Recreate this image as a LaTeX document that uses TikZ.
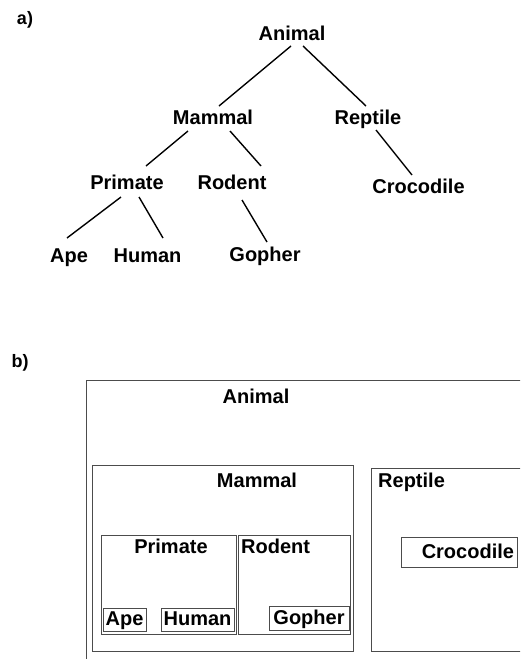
\documentclass[tikz,border=0pt]{standalone}
\usepackage{fontspec}
\setmainfont{Liberation Sans}
\usetikzlibrary{calc}

\tikzset{
  lbl/.style={font=\fontsize{20}{24}\selectfont\bfseries, inner sep=0pt, anchor=base},
  panel/.style={font=\fontsize{18}{22}\selectfont\bfseries, inner sep=0pt, anchor=base},
  edge/.style={line width=1.4pt, black},
  frame/.style={draw=black!70, line width=0.9pt, inner sep=0pt, anchor=north west},
  leaf/.style={draw=black!70, line width=0.9pt, inner sep=0pt,
    text height=15.5pt, text depth=3pt,
    font=\fontsize{20}{24}\selectfont\bfseries},
}

\begin{document}
\begin{tikzpicture}[x=1pt, y=-1pt]
  \useasboundingbox (0,0) rectangle (520,659);
  \clip (0,0) rectangle (520,659);

  % ---------- a) tree ----------
  \node[panel] (pa) at (25,24) {a)};

  \node[lbl] (animal)    at (292,40)    {Animal};
  \node[lbl] (mammal)    at (213,124)   {Mammal};
  \node[lbl] (reptile)   at (368,124)   {Reptile};
  \node[lbl] (primate)   at (127,189)   {Primate};
  \node[lbl] (rodent)    at (232,189)   {Rodent};
  \node[lbl] (crocodile) at (418.5,193) {Crocodile};
  \node[lbl] (ape)       at (69,262)    {Ape};
  \node[lbl] (human)     at (147.5,262) {Human};
  \node[lbl] (gopher)    at (265,261)   {Gopher};

  \draw[edge] ($(animal.base)+(-1,6)$)   -- ($(mammal.base)+(6,-18)$);
  \draw[edge] ($(animal.base)+(11,6)$)   -- ($(reptile.base)+(-2,-18)$);
  \draw[edge] ($(mammal.base)+(-25,7)$)  -- ($(primate.base)+(19,-23)$);
  \draw[edge] ($(mammal.base)+(17,7)$)   -- ($(rodent.base)+(29,-23)$);
  \draw[edge] ($(reptile.base)+(8,6)$)   -- ($(crocodile.base)+(-6.5,-18)$);
  \draw[edge] ($(primate.base)+(-6,8)$)  -- ($(ape.base)+(-2,-24)$);
  \draw[edge] ($(primate.base)+(12,8)$)  -- ($(human.base)+(15.5,-24)$);
  \draw[edge] ($(rodent.base)+(10,11)$)  -- ($(gopher.base)+(2,-19)$);

  % ---------- b) nested sets ----------
  \node[panel] (pb) at (20,367) {b)};

  \node[frame, minimum width=450, minimum height=300] (animalbox)  at (86,380) {};
  \node[frame, minimum width=261, minimum height=186] (mammalbox)  at (92,465) {};
  \node[frame, minimum width=170, minimum height=183] (reptilebox) at (371,468) {};
  \node[frame, minimum width=135, minimum height=99]  (primatebox) at (101,535) {};
  \node[frame, minimum width=112, minimum height=99]  (rodentbox)  at (238,535) {};

  \node[lbl] (animalset)  at (256,403) {Animal};
  \node[lbl] (mammalset)  at (257,487) {Mammal};
  \node[lbl, anchor=base west] (reptileset) at (378,487) {Reptile};
  \node[lbl] (primateset) at (171,553) {Primate};
  \node[lbl, anchor=base west] (rodentset) at (241,553) {Rodent};

  \node[leaf, minimum width=43, minimum height=23]  (apeset)    at (124.5,619.5) {Ape};
  \node[leaf, minimum width=73, minimum height=23]  (humanset)  at (197.5,619.5) {Human};
  \node[leaf, minimum width=80, minimum height=24]  (gopherset) at (309,618.5)   {Gopher};
  \node[leaf, minimum width=116, minimum height=30, text width=110, align=right]
       (crocset) at (459,552) {Crocodile};
\end{tikzpicture}
\end{document}
